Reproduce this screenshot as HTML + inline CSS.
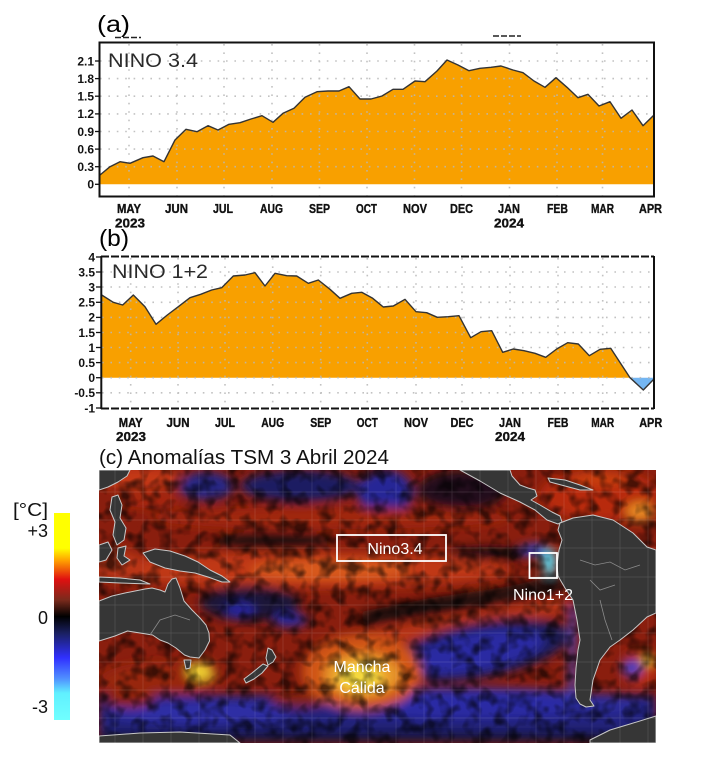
<!DOCTYPE html>
<html><head><meta charset="utf-8"><style>
html,body{margin:0;padding:0;background:#fff;}
svg{display:block;}
text{font-family:"Liberation Sans",sans-serif;}
</style></head><body>
<svg width="726" height="767" viewBox="0 0 726 767" xmlns="http://www.w3.org/2000/svg">
<defs>
<linearGradient id="cbar" x1="0" y1="0" x2="0" y2="1">
<stop offset="0" stop-color="#ffff00"/><stop offset="0.17" stop-color="#ffff00"/>
<stop offset="0.23" stop-color="#ffa000"/><stop offset="0.32" stop-color="#e01010"/>
<stop offset="0.42" stop-color="#7a2a1c"/><stop offset="0.5" stop-color="#000000"/>
<stop offset="0.58" stop-color="#1a2060"/><stop offset="0.7" stop-color="#3030ff"/>
<stop offset="0.8" stop-color="#5090ff"/><stop offset="0.87" stop-color="#60f0ff"/>
<stop offset="1" stop-color="#70ffff"/></linearGradient>
<clipPath id="mapclip"><rect x="99" y="470" width="557" height="273"/></clipPath>
<filter id="blur" filterUnits="userSpaceOnUse" x="80" y="450" width="600" height="310"><feGaussianBlur stdDeviation="5"/></filter>
<filter id="speck" filterUnits="userSpaceOnUse" x="99" y="470" width="557" height="273">
<feTurbulence type="fractalNoise" baseFrequency="0.075" numOctaves="2" seed="7"/>
<feColorMatrix type="matrix" values="0 0 0 0 0  0 0 0 0 0  0 0 0 0 0  3 0 0 0 -1.3"/>
</filter>
</defs>

<!-- ============ PANEL A ============ -->
<text x="97" y="32" font-size="23" textLength="33" lengthAdjust="spacingAndGlyphs">(a)</text>
<line x1="115" y1="37.5" x2="141" y2="37.5" stroke="#222" stroke-width="1.4" stroke-dasharray="6,2"/>
<line x1="493" y1="36" x2="521" y2="36" stroke="#222" stroke-width="1.4" stroke-dasharray="6,2"/>

<polygon fill="#f8a000" points="100,184.3 100,175 110,166.7 120,161.7 130,163.3 143,157.7 153,156 164,161.7 175,140 186,129.3 197,131.7 208,125.7 218,130 229,124.3 240,122.7 251,119 262,115.7 273,122.3 283,113.3 294,108.3 305,97.3 317,91.7 328,91 339,91 349,86.7 360,99 371,99 382,96 393,89.3 403,89.3 415,81 425,81.7 437,71 447,60 458,65 469,70.7 480,68.3 491,67.3 501,66 513,70 523,72.7 534,81 545,87.3 556,77.7 567,87.3 578,97.7 588,94.3 599,106 610,101.7 621,118.3 632,110 643,125.7 654,115 654,184.3"/>
<g stroke="#b8b8b8" stroke-width="1.6" stroke-dasharray="1.6,6.8" opacity="0.85">
<line x1="100" y1="61" x2="654" y2="61"/><line x1="100" y1="78.6" x2="654" y2="78.6"/>
<line x1="100" y1="96.2" x2="654" y2="96.2"/><line x1="100" y1="113.9" x2="654" y2="113.9"/>
<line x1="100" y1="131.5" x2="654" y2="131.5"/><line x1="100" y1="149.1" x2="654" y2="149.1"/>
<line x1="100" y1="166.7" x2="654" y2="166.7"/>
<line x1="129" y1="44" x2="129" y2="196"/><line x1="177" y1="44" x2="177" y2="196"/>
<line x1="224" y1="44" x2="224" y2="196"/><line x1="272" y1="44" x2="272" y2="196"/>
<line x1="319.5" y1="44" x2="319.5" y2="196"/><line x1="367" y1="44" x2="367" y2="196"/>
<line x1="414.5" y1="44" x2="414.5" y2="196"/><line x1="461.5" y1="44" x2="461.5" y2="196"/>
<line x1="509.5" y1="44" x2="509.5" y2="196"/><line x1="557" y1="44" x2="557" y2="196"/>
<line x1="602.5" y1="44" x2="602.5" y2="196"/>
</g>
<polyline fill="none" stroke="#333" stroke-width="1.4" stroke-linejoin="round" points="100,175 110,166.7 120,161.7 130,163.3 143,157.7 153,156 164,161.7 175,140 186,129.3 197,131.7 208,125.7 218,130 229,124.3 240,122.7 251,119 262,115.7 273,122.3 283,113.3 294,108.3 305,97.3 317,91.7 328,91 339,91 349,86.7 360,99 371,99 382,96 393,89.3 403,89.3 415,81 425,81.7 437,71 447,60 458,65 469,70.7 480,68.3 491,67.3 501,66 513,70 523,72.7 534,81 545,87.3 556,77.7 567,87.3 578,97.7 588,94.3 599,106 610,101.7 621,118.3 632,110 643,125.7 654,115"/>
<rect x="99.5" y="42.5" width="554.5" height="154" fill="none" stroke="#111" stroke-width="2"/>
<g stroke="#111" stroke-width="1.3">
<line x1="95" y1="61" x2="99" y2="61"/><line x1="95" y1="78.6" x2="99" y2="78.6"/>
<line x1="95" y1="96.2" x2="99" y2="96.2"/><line x1="95" y1="113.9" x2="99" y2="113.9"/>
<line x1="95" y1="131.5" x2="99" y2="131.5"/><line x1="95" y1="149.1" x2="99" y2="149.1"/>
<line x1="95" y1="166.7" x2="99" y2="166.7"/><line x1="95" y1="184.3" x2="99" y2="184.3"/>
</g>
<g font-size="12" font-weight="bold" text-anchor="end" fill="#111">
<text x="94" y="65.3">2.1</text><text x="94" y="82.9">1.8</text><text x="94" y="100.5">1.5</text>
<text x="94" y="118.2">1.2</text><text x="94" y="135.8">0.9</text><text x="94" y="153.4">0.6</text>
<text x="94" y="171">0.3</text><text x="94" y="188.6">0</text>
</g>
<text x="108" y="67" font-size="19" fill="#2a2a2a" textLength="90" lengthAdjust="spacingAndGlyphs">NINO 3.4</text>
<g font-size="13" font-weight="bold" text-anchor="middle" fill="#111" stroke="#111" stroke-width="0.35">
<text x="129" y="213" textLength="24" lengthAdjust="spacingAndGlyphs">MAY</text>
<text x="130" y="227.5" textLength="30" lengthAdjust="spacingAndGlyphs">2023</text>
<text x="176.5" y="213" textLength="23" lengthAdjust="spacingAndGlyphs">JUN</text>
<text x="223" y="213" textLength="20" lengthAdjust="spacingAndGlyphs">JUL</text>
<text x="271.5" y="213" textLength="23" lengthAdjust="spacingAndGlyphs">AUG</text>
<text x="319.5" y="213" textLength="21" lengthAdjust="spacingAndGlyphs">SEP</text>
<text x="366.5" y="213" textLength="21" lengthAdjust="spacingAndGlyphs">OCT</text>
<text x="415" y="213" textLength="24" lengthAdjust="spacingAndGlyphs">NOV</text>
<text x="461.5" y="213" textLength="23" lengthAdjust="spacingAndGlyphs">DEC</text>
<text x="509" y="213" textLength="22" lengthAdjust="spacingAndGlyphs">JAN</text>
<text x="509" y="227.5" textLength="30" lengthAdjust="spacingAndGlyphs">2024</text>
<text x="557.5" y="213" textLength="21" lengthAdjust="spacingAndGlyphs">FEB</text>
<text x="602.5" y="213" textLength="23" lengthAdjust="spacingAndGlyphs">MAR</text>
<text x="650.5" y="213" textLength="23" lengthAdjust="spacingAndGlyphs">APR</text>
</g>

<!-- ============ PANEL B ============ -->
<text x="99" y="246" font-size="23" textLength="30" lengthAdjust="spacingAndGlyphs">(b)</text>
<polygon fill="#f8a000" points="101.7,377.7 101.7,295 113.3,302.3 122.7,305 133.3,295 145,306.7 156,324.3 167.3,315 178.3,306.7 190,297.7 200.7,294.3 211.7,290 221.7,287.7 233.3,276 245,275 255,272.7 265,286 275,273.3 286.7,275.7 296.7,276 308.3,283.3 318.3,280 330,289.3 340,298.3 351.7,293.3 361.7,292.3 372.7,298.3 383.3,307 393.3,306 405,299.3 416,311.7 426.7,312.7 437.3,317.3 448.3,316.7 459,315.7 470.7,337.7 481,331.7 491.7,330.7 502.7,352.3 513.3,349 524,350.7 535,353.3 545.7,357.3 556.7,349 567.7,342.7 578.3,344 589.3,355.7 600,349.3 610.7,348.3 630,377.7"/>
<polygon fill="#74b6f2" points="630,377.7 643.3,390 654,379 654,377.7"/>
<g stroke="#b8b8b8" stroke-width="1.6" stroke-dasharray="1.6,6.8" opacity="0.85">
<line x1="102" y1="272" x2="654" y2="272"/><line x1="102" y1="287" x2="654" y2="287"/>
<line x1="102" y1="302.3" x2="654" y2="302.3"/><line x1="102" y1="317.4" x2="654" y2="317.4"/>
<line x1="102" y1="332.5" x2="654" y2="332.5"/><line x1="102" y1="347.5" x2="654" y2="347.5"/>
<line x1="102" y1="362.6" x2="654" y2="362.6"/><line x1="102" y1="377.7" x2="654" y2="377.7"/>
<line x1="102" y1="392.8" x2="654" y2="392.8"/>
<line x1="130.7" y1="258" x2="130.7" y2="408"/><line x1="178" y1="258" x2="178" y2="408"/>
<line x1="225" y1="258" x2="225" y2="408"/><line x1="272.7" y1="258" x2="272.7" y2="408"/>
<line x1="320.7" y1="258" x2="320.7" y2="408"/><line x1="367.3" y1="258" x2="367.3" y2="408"/>
<line x1="416" y1="258" x2="416" y2="408"/><line x1="462" y1="258" x2="462" y2="408"/>
<line x1="510" y1="258" x2="510" y2="408"/><line x1="558" y1="258" x2="558" y2="408"/>
<line x1="602.7" y1="258" x2="602.7" y2="408"/>
</g>
<polyline fill="none" stroke="#333" stroke-width="1.4" stroke-linejoin="round" points="101.7,295 113.3,302.3 122.7,305 133.3,295 145,306.7 156,324.3 167.3,315 178.3,306.7 190,297.7 200.7,294.3 211.7,290 221.7,287.7 233.3,276 245,275 255,272.7 265,286 275,273.3 286.7,275.7 296.7,276 308.3,283.3 318.3,280 330,289.3 340,298.3 351.7,293.3 361.7,292.3 372.7,298.3 383.3,307 393.3,306 405,299.3 416,311.7 426.7,312.7 437.3,317.3 448.3,316.7 459,315.7 470.7,337.7 481,331.7 491.7,330.7 502.7,352.3 513.3,349 524,350.7 535,353.3 545.7,357.3 556.7,349 567.7,342.7 578.3,344 589.3,355.7 600,349.3 610.7,348.3 630,377.7 643.3,390 654,379"/>
<g stroke="#111" stroke-width="2">
<line x1="101.3" y1="256" x2="101.3" y2="409"/>
<line x1="654" y1="256" x2="654" y2="409"/>
<line x1="101" y1="256.5" x2="654" y2="256.5" stroke-dasharray="8,2"/>
<line x1="101" y1="408.5" x2="654" y2="408.5" stroke-dasharray="8,2"/>
</g>
<g stroke="#111" stroke-width="1.3">
<line x1="96" y1="257" x2="101" y2="257"/><line x1="96" y1="272" x2="101" y2="272"/>
<line x1="96" y1="287" x2="101" y2="287"/><line x1="96" y1="302.3" x2="101" y2="302.3"/>
<line x1="96" y1="317.4" x2="101" y2="317.4"/><line x1="96" y1="332.5" x2="101" y2="332.5"/>
<line x1="96" y1="347.5" x2="101" y2="347.5"/><line x1="96" y1="362.6" x2="101" y2="362.6"/>
<line x1="96" y1="377.7" x2="101" y2="377.7"/><line x1="96" y1="392.8" x2="101" y2="392.8"/>
<line x1="96" y1="408" x2="101" y2="408"/>
</g>
<g font-size="12" font-weight="bold" text-anchor="end" fill="#111">
<text x="95" y="261.3">4</text><text x="95" y="276.3">3.5</text><text x="95" y="291.3">3</text>
<text x="95" y="306.6">2.5</text><text x="95" y="321.7">2</text><text x="95" y="336.8">1.5</text>
<text x="95" y="351.8">1</text><text x="95" y="366.9">0.5</text><text x="95" y="382">0</text>
<text x="95" y="397.1">-0.5</text><text x="95" y="412.3">-1</text>
</g>
<text x="112" y="278" font-size="19" fill="#2a2a2a" textLength="96" lengthAdjust="spacingAndGlyphs">NINO  1+2</text>
<g font-size="13" font-weight="bold" text-anchor="middle" fill="#111" stroke="#111" stroke-width="0.35">
<text x="130.7" y="427" textLength="24" lengthAdjust="spacingAndGlyphs">MAY</text>
<text x="131" y="441" textLength="30" lengthAdjust="spacingAndGlyphs">2023</text>
<text x="178" y="427" textLength="23" lengthAdjust="spacingAndGlyphs">JUN</text>
<text x="225" y="427" textLength="20" lengthAdjust="spacingAndGlyphs">JUL</text>
<text x="272.7" y="427" textLength="23" lengthAdjust="spacingAndGlyphs">AUG</text>
<text x="320.7" y="427" textLength="21" lengthAdjust="spacingAndGlyphs">SEP</text>
<text x="367.3" y="427" textLength="21" lengthAdjust="spacingAndGlyphs">OCT</text>
<text x="416" y="427" textLength="24" lengthAdjust="spacingAndGlyphs">NOV</text>
<text x="462" y="427" textLength="23" lengthAdjust="spacingAndGlyphs">DEC</text>
<text x="510" y="427" textLength="22" lengthAdjust="spacingAndGlyphs">JAN</text>
<text x="510" y="441" textLength="30" lengthAdjust="spacingAndGlyphs">2024</text>
<text x="558" y="427" textLength="21" lengthAdjust="spacingAndGlyphs">FEB</text>
<text x="602.7" y="427" textLength="23" lengthAdjust="spacingAndGlyphs">MAR</text>
<text x="650.7" y="427" textLength="23" lengthAdjust="spacingAndGlyphs">APR</text>
</g>

<!-- ============ PANEL C ============ -->
<text x="99" y="464" font-size="20" fill="#111" textLength="290" lengthAdjust="spacingAndGlyphs">(c) Anomalías TSM 3 Abril 2024</text>

<!-- colorbar -->
<rect x="54" y="513" width="16" height="207" fill="url(#cbar)"/>
<g font-size="18" fill="#111" text-anchor="end">
<text x="48" y="516" textLength="35" lengthAdjust="spacingAndGlyphs">[°C]</text>
<text x="48" y="537">+3</text>
<text x="48" y="624">0</text>
<text x="48" y="713">-3</text>
</g>

<!-- map -->
<g clip-path="url(#mapclip)">
<rect x="99" y="470" width="557" height="273" fill="#8a1e0e"/>
<g filter="url(#blur)">
<ellipse cx="140" cy="478" rx="45" ry="12" fill="#c43812"/>
<ellipse cx="150" cy="500" rx="30" ry="8" fill="#a82810"/>
<ellipse cx="206" cy="486" rx="28" ry="14" fill="#262684"/>
<ellipse cx="300" cy="486" rx="60" ry="16" fill="#1e1e62"/>
<ellipse cx="385" cy="492" rx="28" ry="22" fill="#282896"/>
<ellipse cx="462" cy="490" rx="45" ry="20" fill="#200c1c"/>
<ellipse cx="600" cy="495" rx="60" ry="25" fill="#b82c0c"/>
<ellipse cx="600" cy="478" rx="30" ry="8" fill="#c83c10"/>
<ellipse cx="640" cy="512" rx="14" ry="10" fill="#e88820"/>
<ellipse cx="330" cy="518" rx="180" ry="11" fill="#a0260e"/>
<ellipse cx="273" cy="541" rx="60" ry="8" fill="#1a0808"/>
<ellipse cx="488" cy="553" rx="42" ry="6" fill="#140a14"/>
<ellipse cx="300" cy="570" rx="210" ry="18" fill="#c03812"/>
<ellipse cx="330" cy="570" rx="80" ry="10" fill="#d85a1c"/>
<ellipse cx="120" cy="565" rx="25" ry="15" fill="#b83612"/>
<ellipse cx="250" cy="603" rx="50" ry="18" fill="#1e1838"/>
<ellipse cx="240" cy="610" rx="15" ry="7" fill="#2828a0"/>
<ellipse cx="290" cy="620" rx="18" ry="7" fill="#282896"/>
<polygon points="360,612 430,598 500,588 560,575 565,590 500,602 430,615 365,625" fill="#160810"/>
<polygon points="330,640 420,622 500,610 565,598 568,612 500,626 420,640 335,655" fill="#b83614"/>
<ellipse cx="480" cy="650" rx="90" ry="28" fill="#1c1c58" transform="rotate(-10 480 650)"/>
<ellipse cx="475" cy="652" rx="70" ry="19" fill="#2a2ca2" transform="rotate(-10 475 652)"/>
<ellipse cx="160" cy="680" rx="60" ry="18" fill="#98260e"/>
<rect x="99" y="695" width="557" height="40" fill="#24247c"/>
<ellipse cx="200" cy="712" rx="90" ry="11" fill="#2e2ea6"/>
<ellipse cx="470" cy="703" rx="150" ry="15" fill="#2c2ca4"/>
<ellipse cx="600" cy="705" rx="40" ry="11" fill="#2a2a98"/>
<ellipse cx="130" cy="700" rx="25" ry="8" fill="#8a2010"/>
<ellipse cx="300" cy="700" rx="30" ry="7" fill="#802010"/>
<rect x="99" y="731" width="557" height="12" fill="#14143a"/>
<ellipse cx="362" cy="672" rx="60" ry="38" fill="#d05418"/>
<ellipse cx="362" cy="675" rx="38" ry="22" fill="#e89a2c"/>
<ellipse cx="360" cy="677" rx="22" ry="13" fill="#f4d83c"/>
<ellipse cx="200" cy="671" rx="13" ry="9" fill="#f0d030"/>
<ellipse cx="640" cy="668" rx="18" ry="18" fill="#b82e10"/>
<ellipse cx="632" cy="668" rx="10" ry="8" fill="#3040c0"/>
<ellipse cx="648" cy="660" rx="6" ry="5" fill="#f0d030"/>
<ellipse cx="535" cy="550" rx="15" ry="6" fill="#3040c0"/>
<ellipse cx="549" cy="562" rx="7" ry="13" fill="#58d8f0"/>
<polygon points="570,605 576,605 575,700 569,700" fill="#3a44c8"/>
</g>
<rect x="99" y="470" width="557" height="273" fill="#000" filter="url(#speck)" opacity="0.6"/>

<!-- land -->
<g fill="#363636" stroke="#c8c8c8" stroke-width="1" stroke-linejoin="round">
<polygon points="99,470 130,470 127,476 118,482 108,487 99,490"/>
<polygon points="112,497 118,495 122,505 120,518 126,528 124,540 117,545 113,535 115,522 110,510"/>
<polygon points="99,545 108,542 112,550 106,560 99,562"/>
<polygon points="118,548 126,546 124,556 130,560 122,565 117,558"/>
<polygon points="99,577 120,578 140,580 150,584 120,583 99,582"/>
<polygon points="143,553 155,549 170,551 185,556 198,562 210,570 222,576 230,582 222,582 208,577 195,573 180,571 165,568 150,562"/>
<polygon points="99,601 112,596 125,593 135,591 145,589 152,588 160,590 165,592 168,584 172,579 176,578 180,588 184,601 192,610 200,618 206,625 209,633 209.5,641 205,650 199,658 190,657 184.5,655 176,648 168,643 160,640 152.5,635 140,633 127.5,631 115,636 99,641"/>
<polygon points="184,660 191,660 190,668 186,669"/>
<polygon points="268,648 272,650 276,657 273,662 268,665 266,658"/>
<polygon points="263,664 268,666 262,673 254,679 246,683 244,679 252,673"/>
<polygon points="460,470 510,470 512,476 520,485 528,488 535,490 537,496 531,500 540,505 552,512 560,516 562,522 558,524 547,520 535,510 520,502 500,493 480,481"/>
<polygon points="548,478 565,480 580,485 593,490 580,490 565,486 550,482"/>
<polygon points="560,523 573,518 593,515 613,520 633,533 647,547 656,550 656,613 647,617 633,630 620,640 610,647 600,660 593,680 590,700 594,706 586,707 580,704 576,698 575,685 576,668 578,650 580,640 577,620 573,600 565,588 558,576 557,565 559,550 562,540 558,530"/>
<polygon points="99,736 140,733 180,732 230,735 240,743 99,743"/>
<polygon points="590,740 610,730 630,724 656,716 656,743 590,743"/>
</g>
<g fill="none" stroke="#8a8a8a" stroke-width="0.8">
<polyline points="580,560 595,565 610,562 625,570 640,565"/>
<polyline points="600,600 605,620 612,640"/>
<polyline points="590,580 600,590 615,585"/>
<polyline points="150,635 160,620 175,615 190,620"/>
</g>
<g stroke="#ffffff" stroke-width="0.7" opacity="0.14">
<line x1="115" y1="470" x2="115" y2="743"/><line x1="143" y1="470" x2="143" y2="743"/>
<line x1="171" y1="470" x2="171" y2="743"/><line x1="199" y1="470" x2="199" y2="743"/>
<line x1="227" y1="470" x2="227" y2="743"/><line x1="255" y1="470" x2="255" y2="743"/>
<line x1="283" y1="470" x2="283" y2="743"/><line x1="312" y1="470" x2="312" y2="743"/>
<line x1="340" y1="470" x2="340" y2="743"/><line x1="368" y1="470" x2="368" y2="743"/>
<line x1="396" y1="470" x2="396" y2="743"/><line x1="424" y1="470" x2="424" y2="743"/>
<line x1="452" y1="470" x2="452" y2="743"/><line x1="480" y1="470" x2="480" y2="743"/>
<line x1="508" y1="470" x2="508" y2="743"/><line x1="536" y1="470" x2="536" y2="743"/>
<line x1="564" y1="470" x2="564" y2="743"/><line x1="592" y1="470" x2="592" y2="743"/>
<line x1="620" y1="470" x2="620" y2="743"/><line x1="648" y1="470" x2="648" y2="743"/>
<line x1="99" y1="492" x2="656" y2="492"/><line x1="99" y1="520" x2="656" y2="520"/>
<line x1="99" y1="548" x2="656" y2="548"/><line x1="99" y1="577" x2="656" y2="577"/>
<line x1="99" y1="605" x2="656" y2="605"/><line x1="99" y1="633" x2="656" y2="633"/>
<line x1="99" y1="662" x2="656" y2="662"/><line x1="99" y1="690" x2="656" y2="690"/>
<line x1="99" y1="718" x2="656" y2="718"/>
</g>
<rect x="337" y="535" width="109" height="26" fill="none" stroke="#fff" stroke-width="1.8"/>
<rect x="529.5" y="553" width="27.5" height="25" fill="none" stroke="#fff" stroke-width="1.8"/>
<g font-size="16" fill="#fff" text-anchor="middle">
<text x="395" y="554">Nino3.4</text>
<text x="543" y="600">Nino1+2</text>
<text x="362" y="672">Mancha</text>
<text x="362" y="693">Cálida</text>
</g>
</g>
</svg>
</body></html>
